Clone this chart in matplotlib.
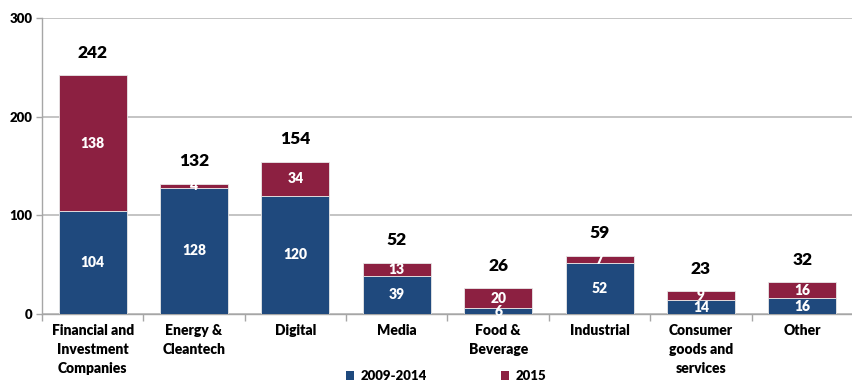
import matplotlib
matplotlib.use("Agg")
import matplotlib.pyplot as plt
from matplotlib.patches import Patch

plt.rcParams['font.family'] = ['Lato', 'DejaVu Sans']

categories = ["Financial and\nInvestment\nCompanies", "Energy &\nCleantech", "Digital",
              "Media", "Food &\nBeverage", "Industrial", "Consumer\ngoods and\nservices", "Other"]
early = [104, 128, 120, 39, 6, 52, 14, 16]
recent = [138, 4, 34, 13, 20, 7, 9, 16]
totals = [242, 132, 154, 52, 26, 59, 23, 32]
series_names = ["2009-2014", "2015"]
yticks = [0, 100, 200, 300]

blue = "#1F497D"
red = "#8C2041"
WT = "heavy"

fig = plt.figure(figsize=(8.53, 3.82), dpi=100)
ax = fig.add_axes([42 / 853, 68 / 382, 811 / 853, 296 / 382])

x = list(range(len(categories)))
w = 0.67
ax.bar(x, early, w, color=blue, edgecolor="#E8E8E8", linewidth=0.6, zorder=3)
ax.bar(x, recent, w, bottom=early, color=red, edgecolor="#E8E8E8", linewidth=0.6, zorder=3)

for xi, e, r, t in zip(x, early, recent, totals):
    ax.text(xi, e / 2, str(e), ha="center", va="center", color="white",
            fontsize=10, fontweight=WT, zorder=4)
    ax.text(xi, e + r / 2, str(r), ha="center", va="center", color="white",
            fontsize=10, fontweight=WT, zorder=4)
    ax.text(xi, t + 23, str(t), ha="center", va="center", color="black",
            fontsize=12.5, fontweight=WT, zorder=4)

ax.set_xlim(-0.5, len(categories) - 0.5)
ax.set_ylim(0, 300)
ax.set_yticks(yticks)
ax.set_yticklabels([str(v) for v in yticks], fontsize=9.5, fontweight=WT)
ax.yaxis.grid(True, color="#BFBFBF", linewidth=1.3, zorder=0)
ax.set_axisbelow(True)

ax.set_xticks(x)
ax.set_xticklabels(categories, fontsize=10, fontweight=WT, linespacing=1.55, va="top")
ax.tick_params(axis="x", which="major", length=0, pad=7)
ax.set_xticks([i - 0.5 for i in range(len(categories) + 1)], minor=True)
ax.tick_params(axis="x", which="minor", length=5, color="#A6A6A6", width=1)
ax.tick_params(axis="y", length=4, color="#A6A6A6", width=1, pad=3)

for s in ["top", "right"]:
    ax.spines[s].set_visible(False)
for s in ["left", "bottom"]:
    ax.spines[s].set_color("#A6A6A6")
    ax.spines[s].set_linewidth(1)

handles = [Patch(facecolor=blue), Patch(facecolor=red)]
fig.legend(handles, series_names, loc="center", bbox_to_anchor=(446 / 853, 6 / 382),
           ncol=2, frameon=False, handlelength=0.6, handleheight=0.6, handletextpad=0.5,
           columnspacing=5.6, prop={"weight": WT, "size": 9.5})

fig.savefig("out.png", dpi=100)
